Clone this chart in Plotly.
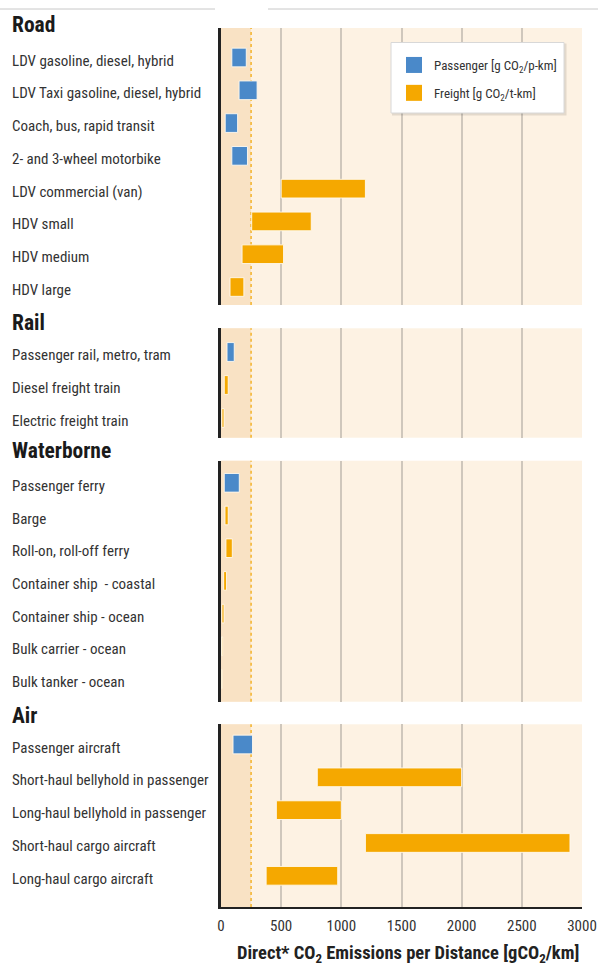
import plotly.graph_objects as go

# ---------------- data ----------------
section_titles = ["Road", "Rail", "Waterborne", "Air"]

road_labels = ["LDV gasoline, diesel, hybrid", "LDV Taxi gasoline, diesel, hybrid",
               "Coach, bus, rapid transit", "2- and 3-wheel motorbike",
               "LDV commercial (van)", "HDV small", "HDV medium", "HDV large"]
road_low = [90, 150, 35, 90, 500, 255, 175, 75]
road_high = [210, 300, 138, 220, 1200, 750, 520, 190]
road_kind = ["P", "P", "P", "P", "F", "F", "F", "F"]

rail_labels = ["Passenger rail, metro, tram", "Diesel freight train", "Electric freight train"]
rail_low = [50, 27, 8]
rail_high = [110, 60, 25]
rail_kind = ["P", "F", "F"]

water_labels = ["Passenger ferry", "Barge", "Roll-on, roll-off ferry",
                "Container ship\u00a0 - coastal", "Container ship - ocean",
                "Bulk carrier - ocean", "Bulk tanker - ocean"]
water_low = [27, 33, 41, 22, 8, 4, 3]
water_high = [152, 60, 94, 46, 25, 14, 10]
water_kind = ["P", "F", "F", "F", "F", "F", "F"]

air_labels = ["Passenger aircraft", "Short-haul bellyhold in passenger",
              "Long-haul bellyhold in passenger", "Short-haul cargo aircraft",
              "Long-haul cargo aircraft"]
air_low = [100, 800, 460, 1200, 375]
air_high = [262, 2000, 1000, 2900, 970]
air_kind = ["P", "F", "F", "F", "F"]

x_ticks = [0, 500, 1000, 1500, 2000, 2500, 3000]
threshold = 250
legend_names = {"P": "Passenger [g CO<sub>2</sub>/p-km]", "F": "Freight [g CO<sub>2</sub>/t-km]"}

# ---------------- style ----------------
W, H = 598, 968
ML, MR, MT, MB = 221, 16, 0, 61
PW = W - ML - MR
PH = H - MT - MB
FONT = "Liberation Sans Narrow, Arial Narrow, Roboto Condensed, DejaVu Sans Condensed, Liberation Sans, sans-serif"
BLUE = "#4a89c9"
ORANGE = "#f5a800"
DARK_BG = "#f9e2c4"
LIGHT_BG = "#fdf2e3"
GRID = "#cfc7bc"
colors = {"P": BLUE, "F": ORANGE}


def px(p):
    return (p - ML) / PW


def py(p):
    return (H - MB - p) / PH


# panel pixel geometry: top, bottom, first row centre, last row centre, title centre
geom = [
    (28, 305, 57.5, 287, 25),
    (328.3, 437.7, 352, 418, 322.5),
    (460.7, 701.7, 482.8, 679, 450.5),
    (724.3, 907, 744.5, 875.8, 715),
]
panels = [
    (road_labels, road_low, road_high, road_kind),
    (rail_labels, rail_low, rail_high, rail_kind),
    (water_labels, water_low, water_high, water_kind),
    (air_labels, air_low, air_high, air_kind),
]

fig = go.Figure()
shapes = []
annotations = []
layout_axes = {}

for i, ((labels, low, high, kind), (top, bot, r0, r1, tpx)) in enumerate(zip(panels, geom)):
    n = len(labels)
    s = (r1 - r0) / (n - 1)
    rng = [(n - 1) + (bot - r1) / s, -(r0 - top) / s]
    sfx = "" if i == 0 else str(i + 1)
    xa, ya = "x" + sfx, "y" + sfx
    for k in ["P", "F"]:
        idx = [j for j in range(n) if kind[j] == k]
        if not idx:
            continue
        fig.add_trace(go.Bar(
            orientation="h",
            y=idx,
            x=[high[j] - low[j] for j in idx],
            base=[low[j] for j in idx],
            width=0.57,
            marker=dict(color=colors[k], line=dict(color="rgba(255,250,238,0.9)", width=1)),
            showlegend=False, hoverinfo="skip",
            xaxis=xa, yaxis=ya,
        ))
    last = i == len(panels) - 1
    layout_axes["xaxis" + sfx] = dict(
        domain=[0, 1], range=[0, 3000], anchor=ya, tickvals=x_ticks,
        showgrid=True, gridcolor=GRID, gridwidth=1.5, zeroline=False,
        showticklabels=last, showline=last, linecolor="#222", linewidth=2,
        ticks="outside" if last else "", ticklen=4, tickcolor="rgba(0,0,0,0)",
        tickfont=dict(family=FONT, size=15, color="#333"), fixedrange=True,
    )
    layout_axes["yaxis" + sfx] = dict(
        domain=[py(bot), py(top)], range=rng, anchor=xa,
        showticklabels=False, showgrid=False, zeroline=False, ticks="",
        showline=True, linecolor="#222", linewidth=2.5, fixedrange=True,
    )
    # darker band left of threshold and threshold line
    shapes.append(dict(type="rect", xref=xa, yref=ya + " domain", x0=0, x1=threshold,
                       y0=0, y1=1, fillcolor=DARK_BG, line=dict(width=0), layer="below"))
    shapes.append(dict(type="line", xref=xa, yref=ya + " domain", x0=threshold, x1=threshold,
                       y0=0, y1=1, line=dict(color="#f3b32a", width=1.5, dash="3px,3px"),
                       layer="below"))
    # row labels
    for j, lab in enumerate(labels):
        annotations.append(dict(text=lab, xref="paper", yref=ya, x=px(10), y=j,
                                xanchor="left", yanchor="middle", showarrow=False, yshift=-3,
                                font=dict(family=FONT, size=15, color="#333")))
    annotations.append(dict(text="<b>" + section_titles[i] + "</b>", xref="paper", yref="paper",
                            x=px(9.5), y=py(tpx), xanchor="left", yanchor="middle",
                            showarrow=False, font=dict(family=FONT, size=21.5, color="#1a1a1a")))

# axis title
annotations.append(dict(text="<b>Direct* CO<sub>2</sub> Emissions per Distance [gCO<sub>2</sub>/km]</b>",
                        xref="paper", yref="paper", x=px(408), y=py(954), xanchor="center",
                        yanchor="middle", showarrow=False,
                        font=dict(family=FONT, size=18.5, color="#222")))

# legend entries
for k in ["P", "F"]:
    fig.add_trace(go.Scatter(x=[None], y=[None], mode="markers", name=legend_names[k],
                             legendgroup=k,
                             marker=dict(symbol="square", size=16, color=colors[k]),
                             xaxis="x", yaxis="y"))

# legend box with shadow
shapes.append(dict(type="rect", xref="paper", yref="paper", x0=px(392), x1=px(566.5),
                   y0=py(115.5), y1=py(43.5), fillcolor="rgba(0,0,0,0.10)",
                   line=dict(width=0), layer="above"))
shapes.append(dict(type="rect", xref="paper", yref="paper", x0=px(391), x1=px(564),
                   y0=py(113), y1=py(42.5), fillcolor="white",
                   line=dict(color="#d8d8d8", width=1), layer="above"))
# page header lines
shapes.append(dict(type="line", xref="paper", yref="paper", x0=px(0), x1=px(215),
                   y0=py(9), y1=py(9), line=dict(color="#c8c8c8", width=1), layer="above"))
shapes.append(dict(type="line", xref="paper", yref="paper", x0=px(268), x1=px(598),
                   y0=py(9), y1=py(9), line=dict(color="#c8c8c8", width=1), layer="above"))

fig.update_layout(
    width=W, height=H,
    margin=dict(l=ML, r=MR, t=MT, b=MB),
    paper_bgcolor="white", plot_bgcolor=LIGHT_BG,
    barmode="overlay",
    showlegend=True,
    legend=dict(x=px(394), y=py(50), xanchor="left", yanchor="top",
                bgcolor="rgba(0,0,0,0)", borderwidth=0, traceorder="grouped",
                tracegroupgap=8, itemsizing="trace",
                font=dict(family=FONT, size=13, color="#333")),
    shapes=shapes, annotations=annotations,
    **layout_axes,
)

fig.write_html("out.html", config={"displayModeBar": False},
               post_script="document.body.style.margin='0';")
